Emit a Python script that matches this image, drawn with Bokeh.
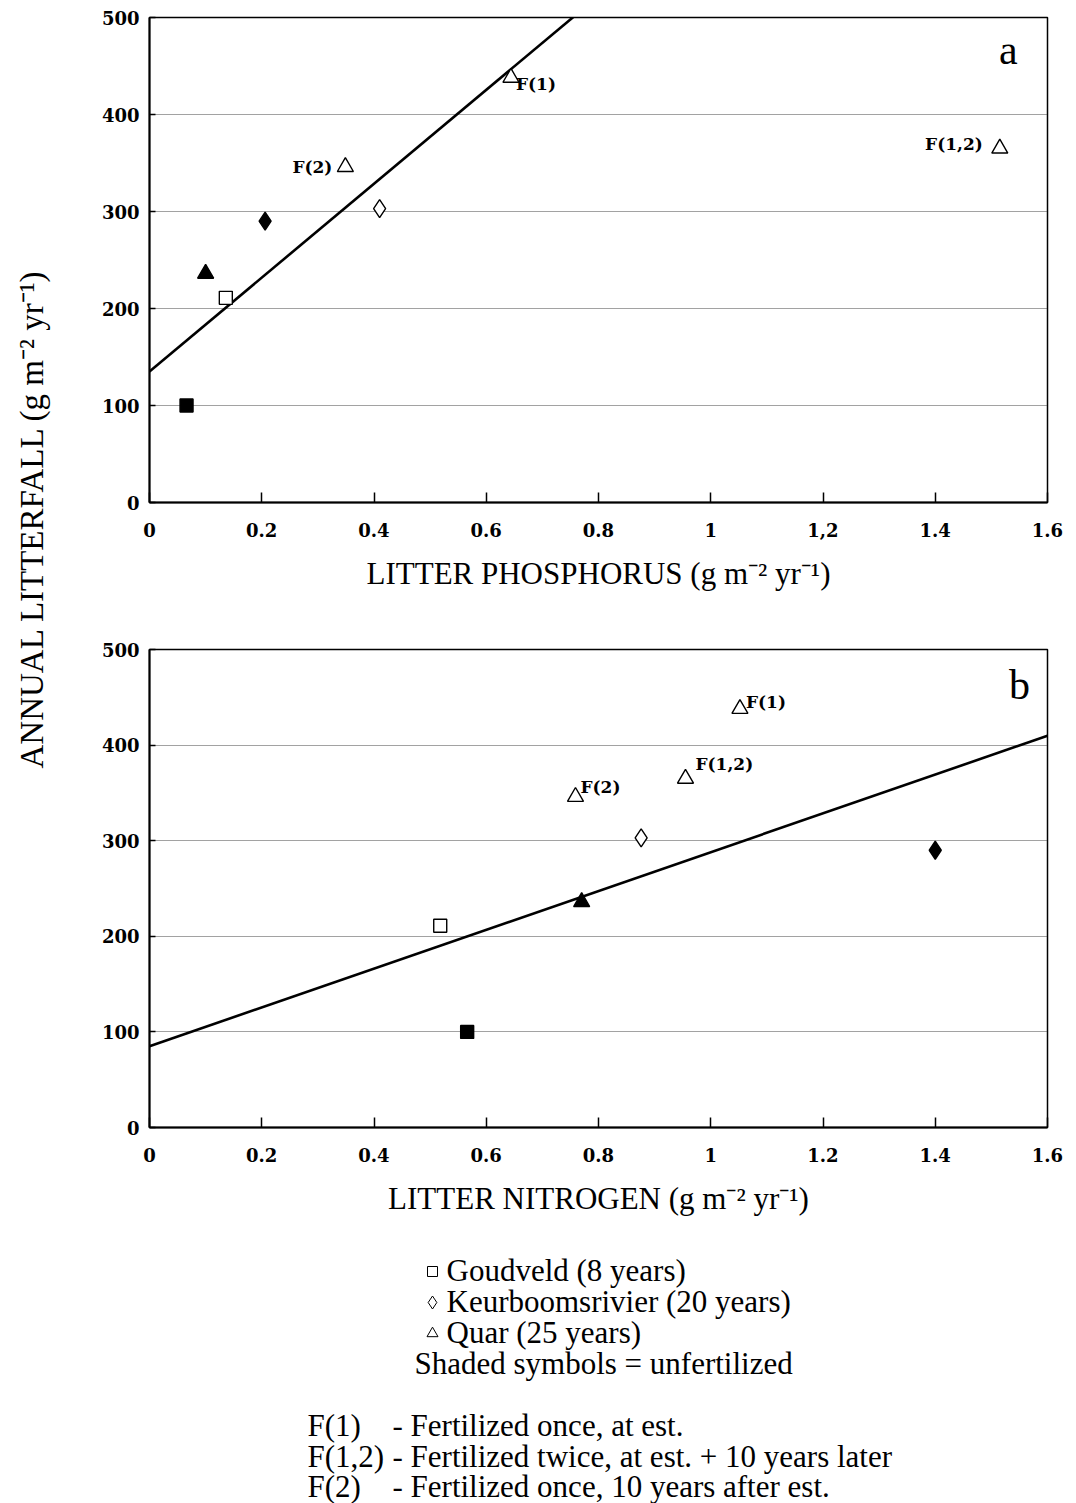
import math

from bokeh.core.properties import value
from bokeh.embed import file_html
from bokeh.layouts import column, row
from bokeh.models import FixedTicker, Label, Range1d
from bokeh.plotting import figure
from bokeh.resources import INLINE

# Annual litterfall against nutrient return in litter, three stands
site = ["Goudveld", "Goudveld", "Keurboomsrivier", "Keurboomsrivier",
        "Quar", "Quar", "Quar", "Quar"]
treatment = ["unfertilized", "fertilized", "unfertilized", "fertilized",
             "unfertilized", "F(1)", "F(2)", "F(1,2)"]
litterfall = [100, 211, 290, 303, 236, 438, 346, 365]          # g m-2 yr-1
litter_p = [0.066, 0.136, 0.206, 0.410, 0.100, 0.644, 0.349, 1.515]
litter_n = [0.566, 0.518, 1.400, 0.876, 0.770, 1.052, 0.759, 0.955]

# regression lines: (intercept, slope)
fit_p = (135, 484)
fit_n = (85, 203)

x_ticks = [0, 0.2, 0.4, 0.6, 0.8, 1, 1.2, 1.4, 1.6]
x_labels_p = ["0", "0.2", "0.4", "0.6", "0.8", "1", "1,2", "1.4", "1.6"]
x_labels_n = ["0", "0.2", "0.4", "0.6", "0.8", "1", "1.2", "1.4", "1.6"]
y_ticks = [0, 100, 200, 300, 400, 500]

legend_sites = ["Goudveld (8 years)", "Keurboomsrivier (20 years)", "Quar (25 years)"]
legend_shading = "Shaded symbols = unfertilized"
legend_codes = ["F(1)", "F(1,2)", "F(2)"]
legend_meaning = ["- Fertilized once, at est.",
                  "- Fertilized twice, at est. + 10 years later",
                  "- Fertilized once, 10 years after est."]

MARKERS = {"Goudveld": ("square", 13), "Keurboomsrivier": ("diamond", 18),
           "Quar": ("triangle", 16)}

SERIF = "Liberation Serif"
TICKFONT = "DejaVu Serif"


def make_panel(xvals, fit, xlabels, title, letter, letter_xy, tag_style,
               width, height, borders):
    left, right, top, bottom = borders
    p = figure(width=width, height=height, x_range=Range1d(0, 1.6),
               y_range=Range1d(0, 500), toolbar_location=None,
               output_backend="svg", min_border_left=left,
               min_border_right=right, min_border_top=top,
               min_border_bottom=bottom)
    p.background_fill_color = "white"
    p.border_fill_color = "white"
    p.outline_line_color = "black"
    p.outline_line_width = 1.5

    p.xgrid.visible = False
    p.ygrid.grid_line_color = "#444444"
    p.ygrid.grid_line_dash = "1 1"
    p.ygrid.grid_line_width = 1

    xa = p.xaxis[0]
    xa.ticker = FixedTicker(ticks=x_ticks)
    xa.major_label_overrides = {t: s for t, s in zip(x_ticks, xlabels)}
    xa.major_tick_in = 10
    xa.major_tick_out = 0
    xa.minor_tick_line_color = None
    xa.major_label_standoff = 20
    xa.axis_label = title
    xa.axis_label_standoff = 16

    ya = p.yaxis[0]
    ya.ticker = FixedTicker(ticks=y_ticks)
    ya.major_tick_in = 6
    ya.major_tick_out = 0
    ya.minor_tick_line_color = None
    ya.major_label_standoff = 10

    for ax in (xa, ya):
        ax.axis_line_color = "black"
        ax.axis_line_width = 2
        ax.major_tick_line_color = "black"
        ax.major_tick_line_width = 1.5
        ax.major_label_text_font = TICKFONT
        ax.major_label_text_font_style = "bold"
        ax.major_label_text_font_size = "18px"
        ax.major_label_text_color = "black"
        ax.axis_label_text_font = SERIF
        ax.axis_label_text_font_style = "normal"
        ax.axis_label_text_font_size = "31px"
        ax.axis_label_text_color = "black"

    # fitted line across the full axis, clipped by the frame
    a, b = fit
    xs = [x_ticks[0], x_ticks[-1]]
    p.line(xs, [a + b * x for x in xs], line_color="black", line_width=2.6)

    for s, t, xv, yv in zip(site, treatment, xvals, litterfall):
        marker, size = MARKERS[s]
        filled = t == "unfertilized"
        p.scatter([xv], [yv], marker=marker, size=size, line_color="black",
                  line_width=1.4, fill_color="black" if filled else "white")
        if t in tag_style:
            align, dx, dy = tag_style[t]
            p.text([xv], [yv], text=[t], text_align=align,
                   text_baseline="middle", x_offset=dx, y_offset=dy,
                   text_font=value(TICKFONT), text_font_style="bold",
                   text_font_size="17px", text_color="black")

    p.add_layout(Label(x=letter_xy[0], y=letter_xy[1], text=letter,
                       text_align="center", text_baseline="middle",
                       text_font=SERIF, text_font_size="42px",
                       text_color="black"))
    return p


fig_p = make_panel(
    litter_p, fit_p, x_labels_p, "LITTER PHOSPHORUS (g m\u207b\u00b2 yr\u207b\u00b9)",
    "a", (1.53, 466),
    {"F(1)": ("left", 5, 6), "F(2)": ("right", -13, 0),
     "F(1,2)": ("right", -17, -4)},
    1016, 610, (86, 29, 17, 108))

fig_n = make_panel(
    litter_n, fit_n, x_labels_n, "LITTER NITROGEN (g m\u207b\u00b2 yr\u207b\u00b9)",
    "b", (1.55, 463),
    {"F(1)": ("left", 6, -7), "F(1,2)": ("left", 10, -15),
     "F(2)": ("left", 5, -10)},
    1016, 625, (89, 25, 39, 108))

# shared y-axis title
ylab = figure(width=60, height=1235, x_range=Range1d(0, 60),
              y_range=Range1d(1235, 0), toolbar_location=None,
              output_backend="svg", x_axis_location=None,
              y_axis_location=None, min_border=0)
ylab.outline_line_color = None
ylab.grid.visible = False
ylab.add_layout(Label(x=31, y=510, angle=math.pi / 2,
                      text="ANNUAL  LITTERFALL  (g m\u207b\u00b2 yr\u207b\u00b9)",
                      text_align="center", text_baseline="middle",
                      text_font=SERIF, text_font_size="33px",
                      text_color="black"))

# symbol key and treatment codes
key = figure(width=1076, height=268, x_range=Range1d(0, 1076),
             y_range=Range1d(1503, 1235), toolbar_location=None,
             output_backend="svg", x_axis_location=None,
             y_axis_location=None, min_border=0)
key.outline_line_color = None
key.grid.visible = False

text_kw = dict(text_baseline="middle", text_font=value(SERIF),
               text_font_size="31px", text_color="black")
row_y = [1270, 1301, 1332]
for name, yy, m in zip(legend_sites, row_y, ["square", "diamond", "triangle"]):
    key.scatter([432], [yy + 1], marker=m,
                size={"square": 10, "diamond": 13, "triangle": 11}[m],
                line_color="black", line_width=1, fill_color="white")
    key.text([446], [yy], text=[name], **text_kw)
key.text([414], [1363], text=[legend_shading], **text_kw)
for code, meaning, yy in zip(legend_codes, legend_meaning, [1425, 1456, 1486]):
    key.text([307], [yy], text=[code], **text_kw)
    key.text([392], [yy], text=[meaning], **text_kw)

layout = column(row(ylab, column(fig_p, fig_n, spacing=0), spacing=0), key,
                spacing=0)

with open("out.html", "w") as f:
    f.write(file_html(layout, INLINE))
